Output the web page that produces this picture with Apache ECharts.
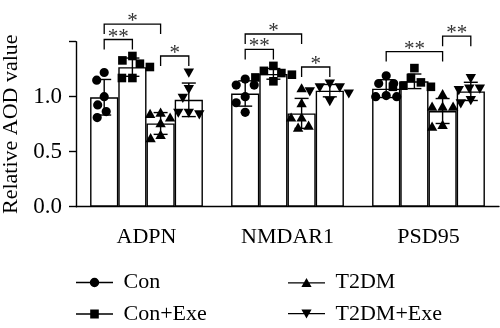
<!DOCTYPE html>
<html>
<head>
<meta charset="utf-8">
<script src="https://cdn.jsdelivr.net/npm/echarts@6/dist/echarts.min.js"></script>
<style>
  html, body { margin: 0; padding: 0; background: #fff; }
  #chart { width: 500px; height: 328px; }
</style>
</head>
<body>
<div id="chart"></div>
<script>
// Proteins on the x axis and the four treatment groups
const categories = ['ADPN', 'NMDAR1', 'PSD95'];
const groups = ['Con', 'Con+Exe', 'T2DM', 'T2DM+Exe'];

// Relative AOD value of every sample (six per group), one row per protein
const conValues = [
  [1.22, 1.15, 1.00, 0.925, 0.865, 0.81],
  [1.16, 1.106, 1.106, 1.00, 0.945, 0.858],
  [1.19, 1.12, 1.12, 1.01, 1.00, 1.00]
];
const conExeValues = [
  [1.37, 1.33, 1.30, 1.27, 1.17, 1.17],
  [1.28, 1.235, 1.215, 1.20, 1.175, 1.14],
  [1.26, 1.17, 1.13, 1.10, 1.09, 1.09]
];
const t2dmValues = [
  [0.855, 0.843, 0.81, 0.758, 0.652, 0.622],
  [1.076, 0.94, 0.81, 0.81, 0.736, 0.718],
  [1.022, 0.909, 0.909, 0.909, 0.743, 0.727]
];
const t2dmExeValues = [
  [1.22, 1.07, 0.99, 0.855, 0.855, 0.84],
  [1.12, 1.085, 1.085, 1.05, 1.03, 0.96],
  [1.17, 1.075, 1.075, 1.06, 0.97, 0.94]
];

// Pairwise significance marks: protein, first group, second group, stars
const comparisons = [
  ['ADPN', 'Con', 'Con+Exe', '**'],
  ['ADPN', 'T2DM', 'T2DM+Exe', '*'],
  ['ADPN', 'Con', 'T2DM', '*'],
  ['NMDAR1', 'Con', 'Con+Exe', '**'],
  ['NMDAR1', 'T2DM', 'T2DM+Exe', '*'],
  ['NMDAR1', 'Con', 'T2DM', '*'],
  ['PSD95', 'Con', 'T2DM', '**'],
  ['PSD95', 'T2DM', 'T2DM+Exe', '**']
];

// Y axis ticks; the top one carries no label
const yTicks = [0, 0.5, 1.0, 1.5];
const yLabelled = ['0.0', '0.5', '1.0'];

const samples = [conValues, conExeValues, t2dmValues, t2dmExeValues];

function mean(a) { return a.reduce((s, v) => s + v, 0) / a.length; }
function sd(a) {
  const m = mean(a);
  return Math.sqrt(a.reduce((s, v) => s + (v - m) * (v - m), 0) / (a.length - 1));
}

// Bracket heights: just above the highest sample they span, stacked over earlier brackets they touch
const CLEARANCE = 0.15, STACK_STEP = 0.14;
const brackets = [];
comparisons.forEach(([cat, a, b, label]) => {
  const ci = categories.indexOf(cat);
  const g0 = Math.min(groups.indexOf(a), groups.indexOf(b));
  const g1 = Math.max(groups.indexOf(a), groups.indexOf(b));
  let top = 0;
  for (let g = g0; g <= g1; g++) top = Math.max(top, ...samples[g][ci]);
  let h = top + CLEARANCE;
  brackets.forEach(p => {
    if (p.ci === ci && p.g0 <= g1 && p.g1 >= g0) h = Math.max(h, p.h + STACK_STEP);
  });
  brackets.push({ ci, g0, g1, h, label });
});

const FONT = 'Liberation Serif';
const BAR_SHARE = 0.2; // each bar's share of a category band (4 bars, 20% gap)

// Horizontal spread of the sample markers so that they do not overlap
function swarm(ys, minDist) {
  const placed = [];
  ys.forEach(y => {
    let best = 0;
    for (let k = 0; k < 200; k++) {
      const dx = (k % 2 ? -1 : 1) * Math.ceil(k / 2) * 0.5;
      const ok = placed.every(p => Math.hypot(p[0] - dx, p[1] - y) >= minDist);
      if (ok) { best = dx; break; }
    }
    placed.push([best, y]);
  });
  return placed.map(p => p[0]);
}

function markerShape(gi, x, y) {
  const r = 4.6;
  const style = { fill: '#000', stroke: null };
  if (gi === 0) return { type: 'circle', shape: { cx: x, cy: y, r: r }, style };
  if (gi === 1) return { type: 'rect', shape: { x: x - 4.3, y: y - 4.3, width: 8.6, height: 8.6 }, style };
  if (gi === 2) return { type: 'polygon', shape: { points: [[x, y - 5.2], [x + 5.2, y + 4], [x - 5.2, y + 4]] }, style };
  return { type: 'polygon', shape: { points: [[x - 5.2, y - 4], [x + 5.2, y - 4], [x, y + 5.2]] }, style };
}

const barSeries = groups.map((g, gi) => ({
  name: g,
  type: 'bar',
  silent: true,
  barGap: 0,
  barCategoryGap: '20%',
  data: categories.map((c, ci) => mean(samples[gi][ci])),
  itemStyle: { color: '#fff', borderColor: '#000', borderWidth: 1.4 },
  z: 2
}));

const pointData = [];
groups.forEach((g, gi) => categories.forEach((c, ci) => {
  pointData.push([ci, mean(samples[gi][ci]), gi]);
}));

const pointSeries = {
  type: 'custom',
  silent: true,
  clip: false,
  z: 4,
  encode: { x: 0, y: 1 },
  data: pointData,
  renderItem(params, api) {
    const ci = api.value(0), m = api.value(1), gi = api.value(2);
    const vals = samples[gi][ci];
    const s = sd(vals);
    const band = api.size([1, 0])[0];
    const bw = band * BAR_SHARE;
    const xc = api.coord([ci, m])[0] + (gi - 1.5) * bw;
    const yTop = api.coord([ci, m + s])[1];
    const yBot = api.coord([ci, m - s])[1];
    const capHalf = 7;
    const line = { stroke: '#000', lineWidth: 1.4 };
    const children = [
      { type: 'line', shape: { x1: xc, y1: yTop, x2: xc, y2: yBot }, style: line },
      { type: 'line', shape: { x1: xc - capHalf, y1: yTop, x2: xc + capHalf, y2: yTop }, style: line },
      { type: 'line', shape: { x1: xc - capHalf, y1: yBot, x2: xc + capHalf, y2: yBot }, style: line }
    ];
    const ys = vals.map(v => api.coord([ci, v])[1]);
    const dxs = swarm(ys, 10.5);
    ys.forEach((y, i) => children.push(markerShape(gi, xc + dxs[i], y)));
    return { type: 'group', children };
  }
};

const bracketSeries = {
  type: 'custom',
  silent: true,
  clip: false,
  z: 5,
  encode: { x: 0, y: 1 },
  data: brackets.map(b => [b.ci, b.h]),
  renderItem(params, api) {
    const b = brackets[params.dataIndex];
    const band = api.size([1, 0])[0];
    const bw = band * BAR_SHARE;
    const p = api.coord([b.ci, b.h]);
    const x0 = p[0] + (b.g0 - 1.5) * bw;
    const x1 = p[0] + (b.g1 - 1.5) * bw;
    const y = p[1];
    const leg = 10;
    return {
      type: 'group',
      children: [
        { type: 'polyline', shape: { points: [[x0, y + leg], [x0, y], [x1, y], [x1, y + leg]] },
          style: { stroke: '#000', lineWidth: 1.3, fill: null } },
        { type: 'text', style: { text: b.label, x: (x0 + x1) / 2, y: y + 8, align: 'center',
          verticalAlign: 'bottom', font: '21px "' + FONT + '"', fill: '#333' } }
      ]
    };
  }
};

// Legend icons: a short line with the group's marker in the middle
const legendIcons = {
  'Con': 'path://M0,4.3L37,4.3L37,5.7L0,5.7Z M13.8,5A4.7,4.7 0 1 1 23.2,5A4.7,4.7 0 1 1 13.8,5Z',
  'Con+Exe': 'path://M0,4.3L37,4.3L37,5.7L0,5.7Z M14.2,0.6L22.8,0.6L22.8,9.4L14.2,9.4Z',
  'T2DM': 'path://M0,4.3L37,4.3L37,5.7L0,5.7Z M18.5,0L23.6,9.2L13.4,9.2Z',
  'T2DM+Exe': 'path://M0,4.3L37,4.3L37,5.7L0,5.7Z M13.4,0.8L23.6,0.8L18.5,10Z'
};

// One legend block per entry, laid out as two columns of two rows
function legendItem(name, left, top) {
  return {
    left: left,
    top: top,
    padding: 0,
    itemWidth: 37,
    itemHeight: 10,
    selectedMode: false,
    data: [{ name: name, icon: legendIcons[name] }],
    itemStyle: { color: '#000', borderWidth: 0 },
    formatter: n => ' ' + n,
    textStyle: { fontFamily: FONT, fontSize: 22, color: '#000', lineHeight: 22 }
  };
}

const chart = echarts.init(document.getElementById('chart'), null, { renderer: 'canvas' });
chart.setOption({
  animation: false,
  backgroundColor: '#fff',
  grid: { left: 76, right: 1, top: 41.7, bottom: 121.3, containLabel: false, outerBoundsMode: 'none' },
  legend: [
    legendItem('Con', 76, 271.5),
    legendItem('Con+Exe', 76, 303),
    legendItem('T2DM', 288, 271.5),
    legendItem('T2DM+Exe', 288, 303)
  ],
  xAxis: {
    type: 'category',
    data: categories,
    axisLine: { lineStyle: { color: '#000', width: 1.4 } },
    axisTick: { alignWithLabel: true, length: 8, lineStyle: { color: '#000', width: 1.4 } },
    axisLabel: { color: '#000', fontFamily: FONT, fontSize: 22, margin: 20 }
  },
  yAxis: {
    type: 'value',
    min: yTicks[0],
    max: yTicks[yTicks.length - 1],
    interval: yTicks[1] - yTicks[0],
    name: 'Relative AOD value',
    nameLocation: 'middle',
    nameGap: 54,
    nameTextStyle: { color: '#000', fontFamily: FONT, fontSize: 22 },
    axisLine: { show: true, lineStyle: { color: '#000', width: 1.4 } },
    axisTick: { show: true, length: 7, lineStyle: { color: '#000', width: 1.4 } },
    splitLine: { show: false },
    axisLabel: {
      color: '#000', fontFamily: FONT, fontSize: 23, margin: 14,
      formatter: v => yLabelled.find(t => Math.abs(parseFloat(t) - v) < 1e-9) || ''
    }
  },
  series: [...barSeries, pointSeries, bracketSeries]
});
</script>
</body>
</html>
